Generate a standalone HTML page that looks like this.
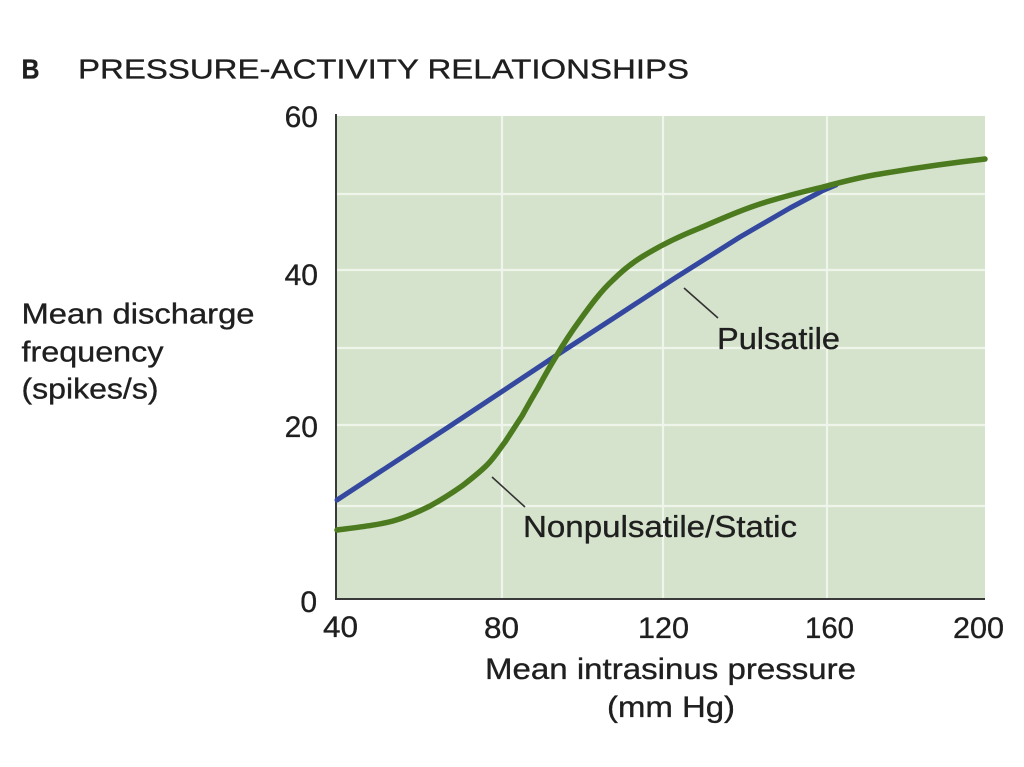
<!DOCTYPE html>
<html>
<head>
<meta charset="utf-8">
<style>
  html, body { margin: 0; padding: 0; background: #ffffff; }
  svg { display: block; }
  text { font-family: "Liberation Sans", Arial, sans-serif; fill: #1f1f1f; stroke: #1f1f1f; stroke-width: 0.35; }
</style>
</head>
<body>
<svg width="1024" height="767" viewBox="0 0 1024 767" xmlns="http://www.w3.org/2000/svg">
  <rect x="0" y="0" width="1024" height="767" fill="#ffffff"/>

  <!-- Title -->
  <text x="21.5" y="78.5" font-size="28" font-weight="bold" textLength="18" lengthAdjust="spacingAndGlyphs">B</text>
  <text x="78" y="78.5" font-size="28" textLength="611" lengthAdjust="spacingAndGlyphs">PRESSURE-ACTIVITY RELATIONSHIPS</text>

  <!-- Plot background -->
  <rect x="336" y="116" width="649" height="483" fill="#d5e3cc"/>

  <!-- Grid lines -->
  <g stroke="#eff5ea" stroke-width="2.2">
    <line x1="502" y1="116" x2="502" y2="599"/>
    <line x1="663" y1="116" x2="663" y2="599"/>
    <line x1="827" y1="116" x2="827" y2="599"/>
    <line x1="336" y1="194" x2="985" y2="194"/>
    <line x1="336" y1="270" x2="985" y2="270"/>
    <line x1="336" y1="348" x2="985" y2="348"/>
    <line x1="336" y1="425" x2="985" y2="425"/>
    <line x1="336" y1="506" x2="985" y2="506"/>
  </g>

  <!-- Axes -->
  <line x1="336" y1="114" x2="336" y2="600" stroke="#3a3a3a" stroke-width="2"/>
  <line x1="335" y1="599" x2="985" y2="599" stroke="#3a3a3a" stroke-width="2"/>

  <!-- Y tick labels -->
  <text x="318" y="127" font-size="30" text-anchor="end">60</text>
  <text x="318" y="285" font-size="30" text-anchor="end">40</text>
  <text x="318" y="437" font-size="30" text-anchor="end">20</text>
  <text x="317" y="612" font-size="30" text-anchor="end">0</text>

  <!-- X tick labels -->
  <text x="323" y="637" font-size="30" textLength="35" lengthAdjust="spacingAndGlyphs">40</text>
  <text x="484" y="638" font-size="30" textLength="35" lengthAdjust="spacingAndGlyphs">80</text>
  <text x="638" y="638" font-size="30" textLength="51" lengthAdjust="spacingAndGlyphs">120</text>
  <text x="805" y="638" font-size="30" textLength="49" lengthAdjust="spacingAndGlyphs">160</text>
  <text x="953" y="638" font-size="30" textLength="51" lengthAdjust="spacingAndGlyphs">200</text>

  <!-- X axis title -->
  <text x="485" y="679" font-size="30" textLength="371" lengthAdjust="spacingAndGlyphs">Mean intrasinus pressure</text>
  <text x="607" y="717" font-size="30" textLength="128" lengthAdjust="spacingAndGlyphs">(mm Hg)</text>

  <!-- Y axis title -->
  <text x="21.5" y="323.5" font-size="29" textLength="233" lengthAdjust="spacingAndGlyphs">Mean discharge</text>
  <text x="21.5" y="361.5" font-size="29" textLength="142" lengthAdjust="spacingAndGlyphs">frequency</text>
  <text x="21.5" y="398.5" font-size="29" textLength="137" lengthAdjust="spacingAndGlyphs">(spikes/s)</text>

  <!-- Blue (Pulsatile) curve -->
  <polyline fill="none" stroke="#34489f" stroke-width="5" stroke-linejoin="round" stroke-linecap="round"
    points="337,500 450,426 557,355 620,314 675,278 740,237 790,208 822,191 836,185"/>

  <!-- Green (Nonpulsatile/Static) curve -->
  <path fill="none" stroke="#4c7a1e" stroke-width="5.5" stroke-linejoin="round" stroke-linecap="round"
    d="M337,530 C360,527 378,525 393,521 C407,517 418,512 430,506 C441,500 452,493 462,486 C471,479 479,473 487,465 C494,458 499,450 505,442 C511,433 516,425 522,416 C527,407 532,398 538,388 C544,377 550,366 557,355 C564,343 572,331 580,320 C590,306 601,291 613,280 C623,270 633,262 645,255 C663,244 680,236 700,228 C723,218 748,207 773,200 C790,195 806,191 823,187 C842,182 860,177 880,174 C915,168 950,163 985,159"/>

  <!-- Leader lines -->
  <line x1="684" y1="288" x2="718" y2="318" stroke="#333333" stroke-width="1.6"/>
  <line x1="492" y1="477" x2="525" y2="507" stroke="#333333" stroke-width="1.6"/>

  <!-- Curve labels -->
  <text x="717" y="349" font-size="31" textLength="123" lengthAdjust="spacingAndGlyphs">Pulsatile</text>
  <text x="523" y="537" font-size="31" textLength="274" lengthAdjust="spacingAndGlyphs">Nonpulsatile/Static</text>
</svg>
</body>
</html>
